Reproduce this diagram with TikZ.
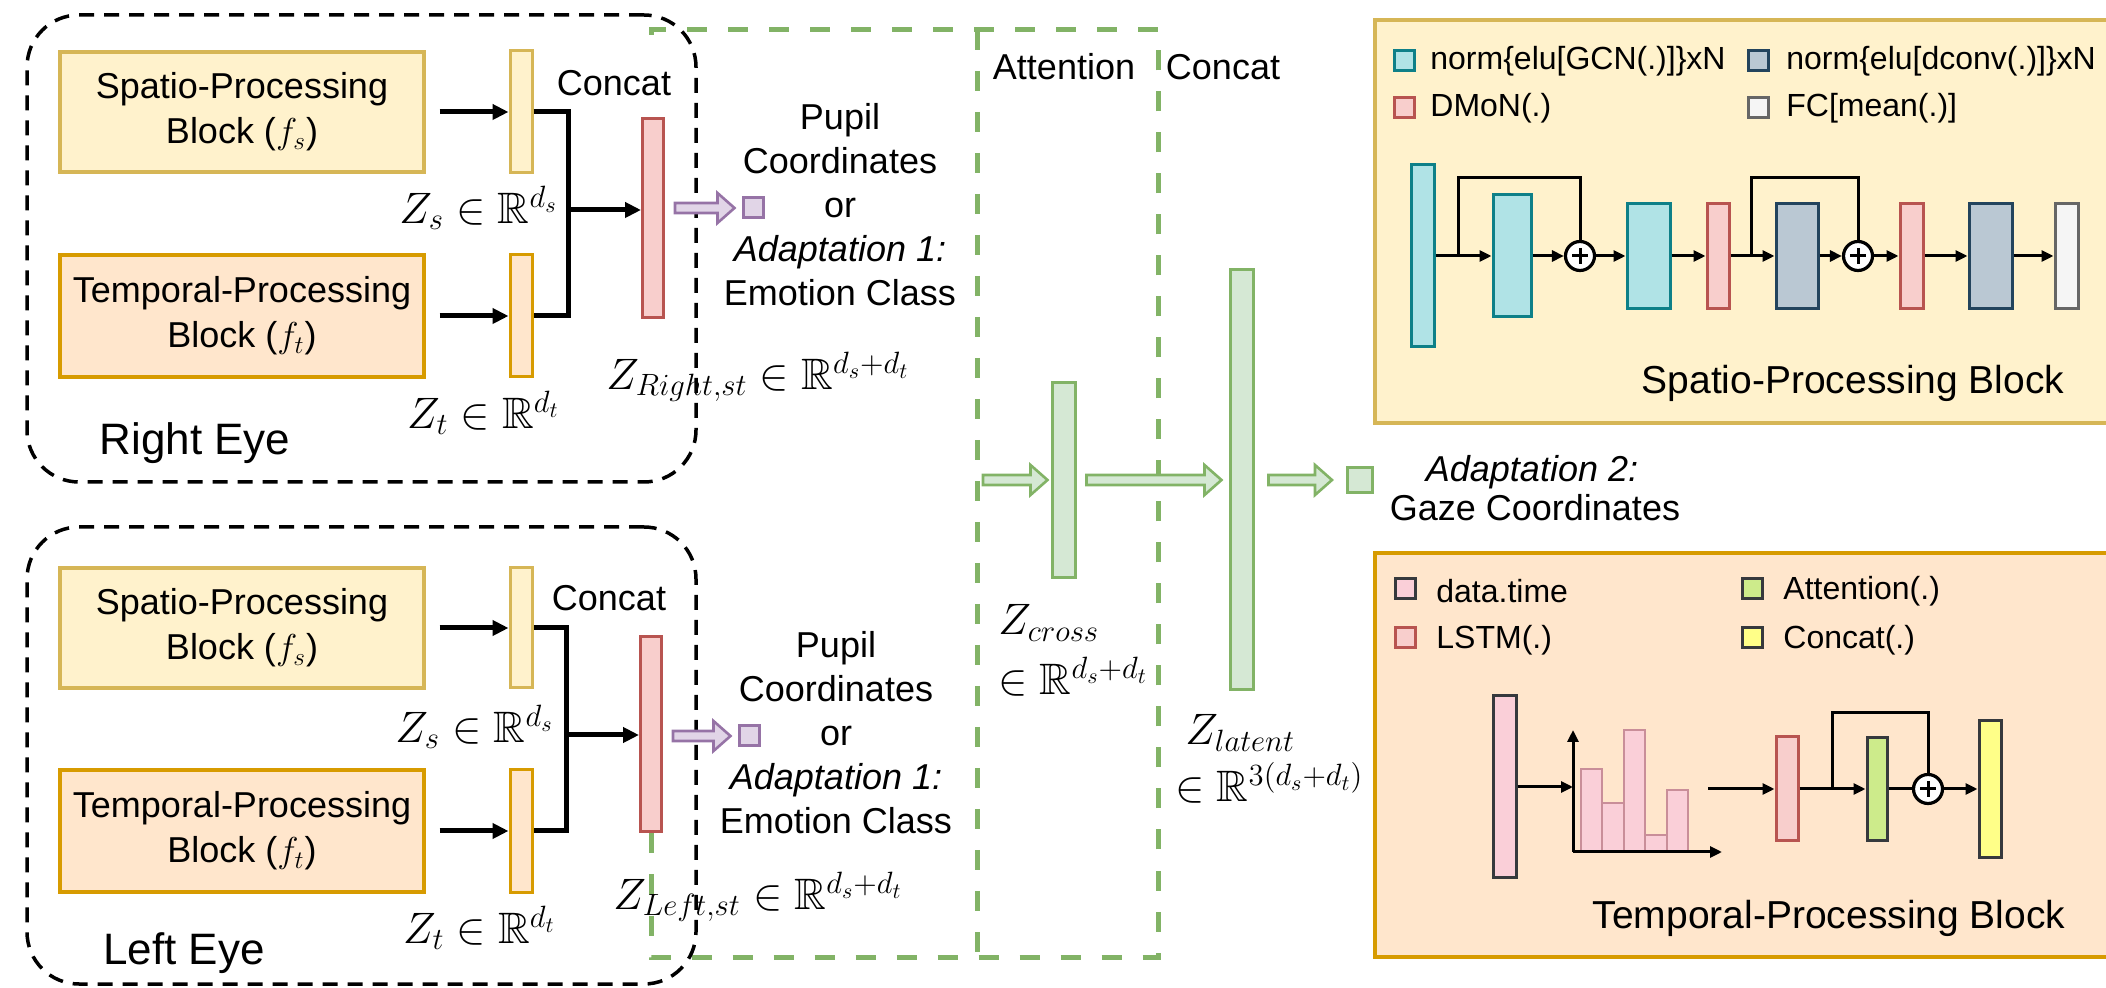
\documentclass[tikz,border=0pt]{standalone}
\usepackage{fix-cm}
\usepackage[no-math]{fontspec}
\setmainfont{Liberation Sans}
\usepackage{amssymb}
\usetikzlibrary{arrows.meta,calc}

\definecolor{ylwF}{HTML}{FFF2CC}\definecolor{ylwD}{HTML}{D6B656}
\definecolor{orgF}{HTML}{FFE6CC}\definecolor{orgD}{HTML}{D79B00}
\definecolor{redF}{HTML}{F8CECC}\definecolor{redD}{HTML}{B85450}
\definecolor{grnF}{HTML}{D5E8D4}\definecolor{grnD}{HTML}{82B366}
\definecolor{purF}{HTML}{E1D5E7}\definecolor{purD}{HTML}{9673A6}
\definecolor{tealF}{HTML}{B0E3E6}\definecolor{tealD}{HTML}{0E8088}
\definecolor{navyF}{HTML}{BAC8D3}\definecolor{navyD}{HTML}{23445D}
\definecolor{grayF}{HTML}{F5F5F5}\definecolor{grayD}{HTML}{666666}
\definecolor{attF}{HTML}{CDEB8B}\definecolor{catF}{HTML}{FFFF88}
\definecolor{darkD}{HTML}{36393D}\definecolor{pinkF}{HTML}{FACFD8}
\definecolor{pinkD}{HTML}{C98E99}

% hollow block arrow from the x of #1 to #2, at the height of #2
\newcommand\fatarrow[3]{%
  \path (#1 |- #2) coordinate (fatT) (#2) coordinate (fatH);
  \filldraw[#3] ($(fatT)+(0,5)$) -- ($(fatH)+(-17,5)$) -- ($(fatH)+(-17,15)$) -- (fatH)
    -- ($(fatH)+(-17,-15)$) -- ($(fatH)+(-17,-5)$) -- ($(fatT)+(0,-5)$) -- cycle;}
% plus sign inside a summation circle
\newcommand\plusmark[1]{%
  \draw[line width=1.5pt] ($(#1)+(-8,0)$) -- ($(#1)+(8,0)$) ($(#1)+(0,-8)$) -- ($(#1)+(0,8)$);}

\begin{document}
\begin{tikzpicture}[x=0.5pt,y=-0.5pt,
  size/.style 2 args={minimum width=#1,minimum height=#2},
  txt/.style={inner sep=0pt,align=center,font=\fontsize{18}{22}\selectfont},
  mth/.style={inner sep=0pt,font=\fontsize{22}{26}\selectfont},
  eyelbl/.style={inner sep=0pt,font=\fontsize{22}{26}\selectfont},
  ptitle/.style={inner sep=0pt,font=\fontsize{19.5}{23}\selectfont},
  lt/.style={anchor=west,inner sep=0pt,font=\fontsize{16}{19}\selectfont},
  blk/.style={draw,line width=1.6pt,inner sep=0pt,align=center,font=\fontsize{18}{22.5}\selectfont},
  sblk/.style={blk,draw=ylwD,fill=ylwF},
  tblk/.style={blk,draw=orgD,fill=orgF},
  bar/.style={draw,line width=1.5pt,inner sep=0pt},
  ybar/.style={bar,draw=ylwD,fill=ylwF},
  obar/.style={bar,draw=orgD,fill=orgF},
  rbar/.style={bar,draw=redD,fill=redF},
  gbar/.style={bar,draw=grnD,fill=grnF},
  pbar/.style={bar,draw=purD,fill=purF},
  gcn/.style={bar,draw=tealD,fill=tealF},
  dcv/.style={bar,draw=navyD,fill=navyF},
  fcm/.style={bar,draw=grayD,fill=grayF},
  dat/.style={bar,draw=darkD,fill=pinkF},
  att/.style={bar,draw=darkD,fill=attF},
  cat/.style={bar,draw=darkD,fill=catF},
  lsq/.style={minimum size=10pt},
  eyebox/.style={draw=black,line width=1.75pt,dash pattern=on 7.5pt off 5pt,rounded corners=26pt,inner sep=0pt},
  gdash/.style={draw=grnD,line width=2.5pt,dash pattern=on 10pt off 10.5pt},
  arr/.style={line width=2.5pt,-{Triangle[length=8pt,width=7.5pt]}},
  elb/.style={line width=2.5pt,line join=miter},
  sl/.style={line width=1.5pt},
  sarr/.style={sl,-{Triangle[length=6pt,width=5.5pt]}},
  sum/.style={circle,draw,line width=1.6pt,fill=white,minimum size=14.5pt,inner sep=0pt},
  parr/.style={draw=purD,fill=purF,line width=1.3pt,line join=miter},
  garr/.style={draw=grnD,fill=grnF,line width=1.3pt,line join=miter},
  hbar/.style={draw=pinkD,fill=pinkF,line width=1pt}]

\useasboundingbox (0,0) rectangle (2106,988);
\clip (0,0) rectangle (2106,988);

% ---------- detail panels ----------
\draw[draw=ylwD,fill=ylwF,line width=2pt] (1375,20) rectangle (2140,423);
\draw[draw=orgD,fill=orgF,line width=2pt] (1375,553) rectangle (2140,957);

% ---------- fusion region (green dashed) ----------
\node[rbar,size={10.5pt}{97.5pt}] (lcat) at (651,734.5) {};
\draw[gdash] (lcat.south) -- (651,957) -- (1158,957) -- (1158,30) -- (651,30) -- (651,52);
\draw[gdash] (977,30) -- (977,957);

% ---------- eye groups ----------
\node[eyebox,size={334.5pt}{233.5pt}] (reye) at (361.5,248.5) {};
\node[eyebox,size={334.5pt}{228.5pt}] (leye) at (361.5,755.5) {};

% right eye
\node[sblk,size={182pt}{60pt}] (rsp) at (242,112) {Spatio-Processing\\Block ($f_s$)};
\node[tblk,size={182pt}{61pt}] (rtp) at (242,316) {Temporal-Processing\\Block ($f_t$)};
\node[ybar,size={11pt}{61pt}] (rzs) at (521,112) {};
\node[obar,size={11pt}{61pt}] (rzt) at (521,316) {};
\node[rbar,size={10.5pt}{99.5pt}] (rcat) at (653,218) {};
\draw[arr] ([xshift=7pt]rsp.east) -- (rzs.west);
\draw[arr] ([xshift=7pt]rtp.east) -- (rzt.west);
\coordinate (rj) at (568,210);
\draw[elb] (rzs.east) -| (rj) |- (rzt.east);
\draw[arr] (rj) -- (rcat.west |- rj);
\node[txt] (rcc) at (614,83) {Concat};
\node[mth,anchor=east] (rzsl) at (558,208) {$Z_s\in\mathbb{R}^{d_s}$};
\node[mth,anchor=east] (rztl) at (560,413) {$Z_t\in\mathbb{R}^{d_t}$};
\node[mth,anchor=west] (rstl) at (606,377) {$Z_{Right,st}\in\mathbb{R}^{d_s+d_t}$};
\node[eyelbl] (rlbl) at (195,443) {Right Eye};

% left eye
\node[sblk,size={182pt}{60pt}] (lsp) at (242,628) {Spatio-Processing\\Block ($f_s$)};
\node[tblk,size={182pt}{61pt}] (ltp) at (242,831) {Temporal-Processing\\Block ($f_t$)};
\node[ybar,size={11pt}{60pt}] (lzs) at (521,628) {};
\node[obar,size={11pt}{61pt}] (lzt) at (521,831) {};
\draw[arr] ([xshift=7pt]lsp.east) -- (lzs.west);
\draw[arr] ([xshift=7pt]ltp.east) -- (lzt.west);
\coordinate (lj) at (566,735);
\draw[elb] (lzs.east) -| (lj) |- (lzt.east);
\draw[arr] (lj) -- (lcat.west |- lj);
\node[txt] (lcc) at (609,598) {Concat};
\node[mth,anchor=east] (lzsl) at (554,727) {$Z_s\in\mathbb{R}^{d_s}$};
\node[mth,anchor=east] (lztl) at (556,928) {$Z_t\in\mathbb{R}^{d_t}$};
\node[mth,anchor=west] (lstl) at (613,897) {$Z_{Left,st}\in\mathbb{R}^{d_s+d_t}$};
\node[eyelbl] (llbl) at (184,953) {Left Eye};

% per-eye outputs
\node[pbar,size={10pt}{10pt}] (rsq) at (753,208) {};
\node[pbar,size={10pt}{10pt}] (lsq) at (749,736) {};
\coordinate (pr0) at ($(rcat.east)+(10,0)$);
\coordinate (pr1) at ($(rsq.west)+(-7,0)$);
\fatarrow{pr0}{pr1}{parr}
\coordinate (pl0) at ($(lcat.east)+(10,0)$);
\coordinate (pl1) at ($(lsq.west)+(-7,0)$);
\fatarrow{pl0}{pl1}{parr}
\node[txt] (rpup) at (840,205) {Pupil\\Coordinates\\or\\\textit{Adaptation 1:}\\Emotion Class};
\node[txt] (lpup) at (836,733) {Pupil\\Coordinates\\or\\\textit{Adaptation 1:}\\Emotion Class};

% ---------- attention and fusion ----------
\node[txt] (attl) at (1064,67) {Attention};
\node[txt] (catl) at (1223,67) {Concat};
\node[gbar,size={11.5pt}{97.5pt}] (zcross) at (1063.5,480) {};
\node[gbar,size={11.5pt}{210pt}] (zlat) at (1241.5,480) {};
\node[gbar,size={12.5pt}{12.5pt}] (gsq) at (1360,480) {};
\coordinate (g0) at (983,480);
\coordinate (g1) at ($(zcross.west)+(-3,0)$);
\fatarrow{g0}{g1}{garr}
\coordinate (g2) at ($(zcross.east)+(10,0)$);
\coordinate (g3) at ($(zlat.west)+(-7,0)$);
\fatarrow{g2}{g3}{garr}
\coordinate (g4) at ($(zlat.east)+(14,0)$);
\coordinate (g5) at ($(gsq.west)+(-14,0)$);
\fatarrow{g4}{g5}{garr}
\node[mth,anchor=west] (zcl1) at (998,623) {$Z_{cross}$};
\node[mth,anchor=west] (zcl2) at (998,677) {$\in\mathbb{R}^{d_s+d_t}$};
\node[mth,anchor=west] (zll1) at (1185,733) {$Z_{latent}$};
\node[mth,anchor=west] (zll2) at (1175,783) {$\in\mathbb{R}^{3(d_s+d_t)}$};
\node[txt] (ad2) at (1532,472) {\textit{Adaptation 2:}};
\node[txt] (gaze) at (1535,508) {Gaze Coordinates};

% ---------- spatio-processing block detail ----------
\node[gcn,lsq] (lg1) at (1404,61) {};
\node[lt] (lg1t) at (1430,61) {norm\{elu[GCN(.)]\}xN};
\node[dcv,lsq] (lg2) at (1758,61) {};
\node[lt] (lg2t) at (1786,61) {norm\{elu[dconv(.)]\}xN};
\node[rbar,lsq] (lg3) at (1404,108) {};
\node[lt] (lg3t) at (1430,108) {DMoN(.)};
\node[fcm,lsq] (lg4) at (1758,108) {};
\node[lt] (lg4t) at (1786,108) {FC[mean(.)]};

\node[gcn,size={11.5pt}{91pt}] (s1) at (1422.5,256) {};
\node[gcn,size={19pt}{61pt}] (s2) at (1512,256) {};
\node[sum] (p1) at (1580,256) {};
\node[gcn,size={21.5pt}{52.5pt}] (s3) at (1648.5,256) {};
\node[rbar,size={11pt}{52.5pt}] (s4) at (1718,256) {};
\node[dcv,size={21pt}{52.5pt}] (s5) at (1797,256) {};
\node[sum] (p2) at (1858,256) {};
\node[rbar,size={11.5pt}{52.5pt}] (s6) at (1911.5,256) {};
\node[dcv,size={21.5pt}{52.5pt}] (s7) at (1990.5,256) {};
\node[fcm,size={11.5pt}{52.5pt}] (s8) at (2066.5,256) {};
\plusmark{p1}\plusmark{p2}
\draw[sarr] (s1.east) -- (s2.west);
\draw[sl] (1458,256) |- (1580,178) -- (p1.north);
\draw[sarr] (s2.east) -- (p1.west);
\draw[sarr] (p1.east) -- (s3.west);
\draw[sarr] (s3.east) -- (s4.west);
\draw[sarr] (s4.east) -- (s5.west);
\draw[sl] (1751,256) |- (1858,178) -- (p2.north);
\draw[sarr] (s5.east) -- (p2.west);
\draw[sarr] (p2.east) -- (s6.west);
\draw[sarr] (s6.east) -- (s7.west);
\draw[sarr] (s7.east) -- (s8.west);
\node[ptitle] (stitle) at (1853,383) {Spatio-Processing Block};

% ---------- temporal-processing block detail ----------
\node[dat,lsq] (lg5) at (1405,589) {};
\node[lt] (lg5t) at (1436,591) {data.time};
\node[rbar,lsq] (lg6) at (1405,638) {};
\node[lt] (lg6t) at (1436,640) {LSTM(.)};
\node[att,lsq] (lg7) at (1752,589) {};
\node[lt] (lg7t) at (1783,591) {Attention(.)};
\node[cat,lsq] (lg8) at (1752,638) {};
\node[lt] (lg8t) at (1783,640) {Concat(.)};

\node[dat,size={11.5pt}{91pt}] (t1) at (1504.5,787) {};
\coordinate (org) at (1573,852);
\coordinate (yend) at (1573,730);
\coordinate (xend) at (1722,852);
\foreach \xa/\xb/\top in {1581/1602/769,1602/1624/803,1624/1645/730,1645/1667/835,1667/1688/790}
  \draw[hbar] (\xa,851) rectangle (\xb,\top);
\draw[sarr] (org) -- (yend);
\draw[sarr] (org) -- (xend);
\draw[sarr] (t1.east) -- (t1.east -| org);
\node[rbar,size={11pt}{52pt}] (t2) at (1787,789) {};
\node[att,size={10pt}{51.5pt}] (t3) at (1877,789) {};
\node[sum] (p3) at (1928,789) {};
\node[cat,size={11pt}{68.5pt}] (t4) at (1990,789) {};
\plusmark{p3}
\coordinate (hout) at (1708,789);
\draw[sarr] (hout) -- (t2.west);
\draw[sarr] (t2.east) -- (t3.west);
\draw[sl] (1832,789) |- (1928,713) -- (p3.north);
\draw[sl] (t3.east) -- (p3.west);
\draw[sarr] (p3.east) -- (t4.west);
\node[ptitle] (ttitle) at (1829,918) {Temporal-Processing Block};
\end{tikzpicture}
\end{document}
